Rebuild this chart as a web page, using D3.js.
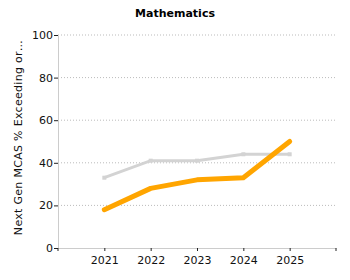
<!DOCTYPE html>
<html>
<head>
<meta charset="utf-8">
<script src="https://d3js.org/d3.v7.min.js"></script>
<style>
  body { margin: 0; background: #fff; }
  text { font-family: "DejaVu Sans", Verdana, sans-serif; }
</style>
</head>
<body>
<div id="chart"></div>
<script>
// chart data
const years = [2021, 2022, 2023, 2024, 2025];
const district = [18, 28, 32, 33, 50];
const state = [33, 41, 41, 44, 44];
const yTicks = [0, 20, 40, 60, 80, 100];

let margin = {top: 35, right: 14, bottom: 32, left: 58},
    width = 350 - margin.left - margin.right,
    height = 280 - margin.top - margin.bottom;

let svg = d3.select("#chart").append("svg")
    .attr("width", 350)
    .attr("height", 280)
  .append("g")
    .attr("transform", "translate(" + margin.left + "," + margin.top + ")");

let x = d3.scaleLinear().domain([2020, 2026]).range([0, width]);
let y = d3.scaleLinear().domain([0, 100]).range([height, 0]);

// gridlines
svg.selectAll(".grid")
  .data(yTicks.filter(d => d > 0))
  .enter().append("line")
    .attr("x1", 0).attr("x2", width)
    .attr("y1", d => y(d)).attr("y2", d => y(d))
    .attr("stroke", "#bbb")
    .attr("stroke-dasharray", "1,2");

// y axis
let yAxis = svg.append("g").call(d3.axisLeft(y).tickValues(yTicks).tickSize(4).tickSizeOuter(0));
yAxis.select(".domain").attr("stroke", "#ccc");
yAxis.selectAll(".tick line").attr("stroke", "#222");
yAxis.selectAll("text").attr("font-size", 11).attr("fill", "#111").attr("x", -5);

// x axis
let xAxis = svg.append("g")
    .attr("transform", "translate(0," + height + ")")
    .call(d3.axisBottom(x).tickValues(years).tickFormat(d3.format("d")).tickSize(3).tickSizeOuter(0));
xAxis.select(".domain").attr("stroke", "#ccc");
xAxis.selectAll(".tick line").attr("stroke", "#222");
xAxis.selectAll("text").attr("font-size", 11).attr("fill", "#111").attr("dy", "0.9em");
// end ticks
xAxis.selectAll(".endtick").data(x.domain()).enter().append("line")
    .attr("x1", d => x(d)).attr("x2", d => x(d))
    .attr("y1", 0).attr("y2", 3)
    .attr("stroke", "#222");

let line = d3.line()
    .x((d, i) => x(years[i]))
    .y(d => y(d));

// state line
svg.append("path")
    .datum(state)
    .attr("fill", "none")
    .attr("stroke", "#d3d3d3")
    .attr("stroke-width", 3)
    .attr("d", line);
svg.selectAll(".smark").data(state).enter().append("rect")
    .attr("x", (d, i) => x(years[i]) - 2)
    .attr("y", d => y(d) - 2)
    .attr("width", 4).attr("height", 4)
    .attr("fill", "#d3d3d3");

// district line
svg.append("path")
    .datum(district)
    .attr("fill", "none")
    .attr("stroke", "#ffa500")
    .attr("stroke-width", 5)
    .attr("stroke-linecap", "round")
    .attr("stroke-linejoin", "round")
    .attr("d", line);

// title
d3.select("svg").append("text")
    .attr("x", 175).attr("y", 17)
    .attr("text-anchor", "middle")
    .attr("font-size", 11)
    .attr("font-weight", "bold")
    .text("Mathematics");

// y label
d3.select("svg").append("text")
    .attr("transform", "translate(22," + (margin.top + height / 2 - 4) + ") rotate(-90)")
    .attr("text-anchor", "middle")
    .attr("font-size", 11)
    .attr("letter-spacing", 0.3)
    .attr("fill", "#111")
    .text("Next Gen MCAS % Exceeding or…");
</script>
</body>
</html>
